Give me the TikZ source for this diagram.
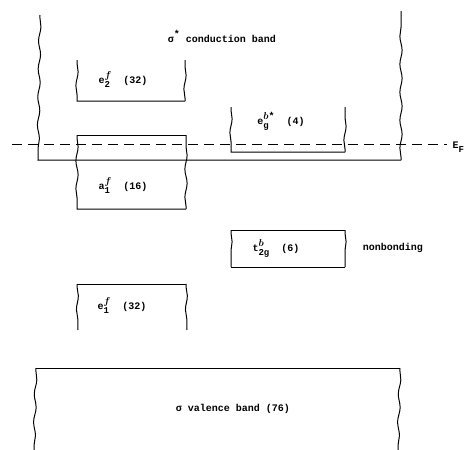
\documentclass[tikz,border=0pt]{standalone}
\usepackage{fontspec}
\setmonofont{Liberation Mono}
\usetikzlibrary{decorations.pathmorphing}
\newcommand{\supsub}[2]{%
  \setbox0\hbox{\fontsize{10}{10}\selectfont\boldmath #1}%
  \setbox2\hbox{\fontsize{9}{9}\selectfont #2}%
  \raisebox{0.5em}{\copy0}\kern-\wd0\raisebox{-0.4em}{\copy2}%
  \ifdim\wd0>\wd2 \kern\dimexpr\wd0-\wd2\relax\fi}
\begin{document}
\begin{tikzpicture}[x=1pt,y=-1pt,
  line width=1pt,
  wavy/.style={decoration={snake,amplitude=1.1pt,segment length=28pt,pre length=3pt,post length=3pt}},
  lbl/.style={font=\ttfamily\bfseries\fontsize{10}{12}\selectfont, inner sep=0pt},
  fermi/.style={dash pattern=on 10pt off 6pt, line width=0.9pt}]
\useasboundingbox (0,0) rectangle (472,450);
% conduction band
\draw[wavy] decorate {(40,15) -- (38,160)} -- (401,160);
\draw[wavy] decorate {(401,160) -- (401,11)};
\node[lbl] (cb) at (222,36) {σ\raisebox{0.5em}{*} conduction band};
% e2f
\draw[wavy] decorate {(77,60) -- (77,101)} -- (185,101);
\draw[wavy] decorate {(185,101) -- (185,60)};
\node[lbl] (e2) at (123,80) {e\supsub{$f$}{2}\ \ (32)};
% egb*
\draw[wavy] decorate {(231,107) -- (231,152)} -- (345,152);
\draw[wavy] decorate {(345,152) -- (345,107)};
\node[lbl] (eg) at (281,121) {e\supsub{$b$*}{g}\ \ (4)};
% a1f
\draw (77,135) -- (186,135);
\draw[wavy] decorate {(77,135) -- (77,209)} -- (186,209);
\draw[wavy] decorate {(186,209) -- (186,135)};
\node[lbl] (a1) at (123,186) {a\supsub{$f$}{1}\ \ (16)};
% Fermi level
\coordinate (fl) at (12,144);
\coordinate (fr) at (447,144);
\draw[fermi] (fl) -- (fr);
\node[lbl, anchor=west] (ef) at (452,147) {E\raisebox{-0.35em}{\fontsize{9}{9}\selectfont F}};
% t2gb
\draw (231,230) -- (345,230);
\draw (231,267) -- (345,267);
\draw[wavy] decorate {(231,230) -- (231,267)};
\draw[wavy] decorate {(345,230) -- (345,267)};
\node[lbl] (t2) at (276,248) {t\supsub{$b$}{2g}\ \ (6)};
\node[lbl] (nb) at (393,248) {nonbonding};
% e1f
\draw (77,284) -- (186,284);
\draw[wavy] decorate {(77,284) -- (78,330)};
\draw[wavy] decorate {(186,284) -- (187,330)};
\node[lbl] (e1) at (122,306) {e\supsub{$f$}{1}\ \ (32)};
% valence band
\draw (36,368) -- (400,368);
\draw[wavy] decorate {(36,368) -- (34,450)};
\draw[wavy] decorate {(400,368) -- (398,450)};
\node[lbl] (vb) at (233,409) {σ valence band (76)};
\end{tikzpicture}
\end{document}
